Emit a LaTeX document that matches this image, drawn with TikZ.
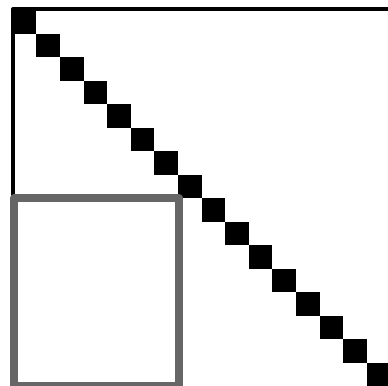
\documentclass[tikz,border=0pt]{standalone}
\begin{document}
\begin{tikzpicture}[x=0.75pt,y=-0.75pt,
  frameline/.style={line width=3pt,line join=round,black},
  cell/.style={fill=black},
  graybox/.style={line width=6pt,line join=round,draw={rgb,255:red,102;green,102;blue,102}}]
\useasboundingbox (0,0) rectangle (388,385);
\clip (0,0) rectangle (388,385);
\fill[white] (0,0) rectangle (388,385);
\draw[frameline] (13,400) -- (13,9) -- (400,9);
\foreach \i in {0,...,15}{
  \fill[cell] ({12.8+23.6*\i},{10.3+23.5*\i}) rectangle ++(23.6,23.5);
}
\draw[graybox] (14,198) rectangle (179,386);
\end{tikzpicture}
\end{document}
